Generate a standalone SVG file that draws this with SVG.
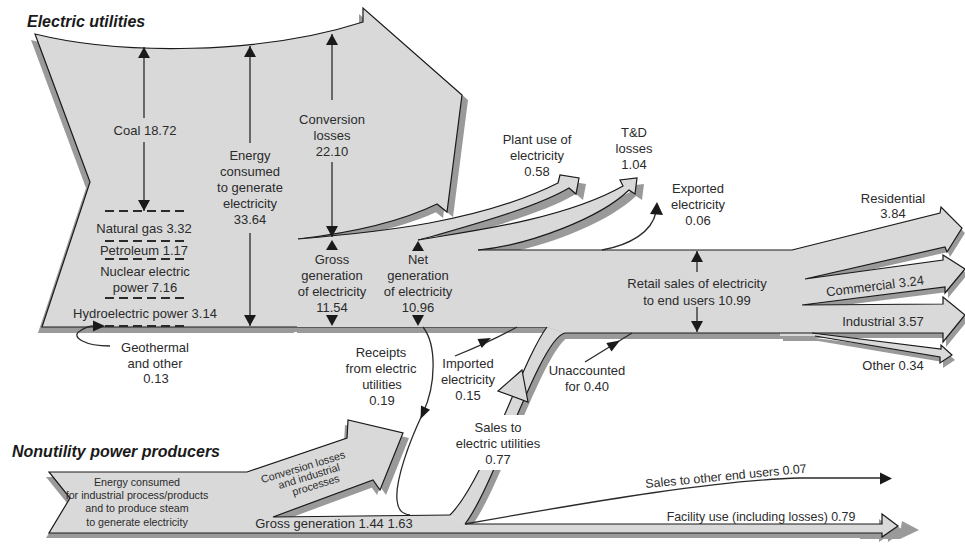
<svg xmlns="http://www.w3.org/2000/svg" width="965" height="545" viewBox="0 0 965 545">
<defs>
<style>
.f{fill:#d9d9d9}
.s{fill:#9a9a9a}
.o{fill:none;stroke:#1a1a1a;stroke-width:1.2;stroke-linejoin:miter}
.ln{fill:none;stroke:#2a2a2a;stroke-width:1.3}
.ah{fill:#1a1a1a}
.dash{stroke:#2a2a2a;stroke-width:2;stroke-dasharray:9,5}
.t{font-family:"Liberation Sans",Arial,sans-serif;font-size:13px;fill:#2b2b2b;text-anchor:middle}
.ts{font-family:"Liberation Sans",Arial,sans-serif;font-size:10.7px;fill:#2b2b2b;text-anchor:middle}
.tm{font-family:"Liberation Sans",Arial,sans-serif;font-size:12.4px;fill:#2b2b2b;text-anchor:middle}
.h{font-family:"Liberation Sans",Arial,sans-serif;font-size:16px;font-weight:bold;font-style:italic;fill:#1a1a1a}
</style>
<marker id="a" viewBox="0 0 11 12" refX="11" refY="6" markerWidth="11" markerHeight="12" markerUnits="userSpaceOnUse" orient="auto"><path d="M0,0 L11,6 L0,12 Z" fill="#1a1a1a"/></marker>
<path id="pB1" d="M35,34 C120,55 260,55 363,22 L363,8 L462,95 L447,212 L437,204 C400,222 350,233 298,239 L298,327 L42,327 L90,182 Z"/>
<path id="pB2" d="M297,239 L320,238 L430,234 L470,245 L478,250 L792,250 L805,279 L802,305 L812,333 L565,333 L547,327 L297,327 Z"/>
<path id="pPl" d="M298,239 C380,232 480,222 558,183 L560,175 L579,178 L576,194 L569,188 C540,205 490,220 430,237 Z"/>
<path id="pTD" d="M418,240 C450,234 560,222 623,186 L620,180 L637,178 L635,194 L629,190 C600,218 530,245 478,250 Z"/>
<path id="pR" d="M780,250 L792,250 L940,213 L941,207 L962,228 L947,252 L945,247 L805,279 L943,260 L943,255 L965,269 L945,293 L945,287 L802,305 L943,304 L943,297 L965,315 L943,342 L943,333 L812,333 L941,349 L941,345 L952,355 L940,363 L940,357 L815,336 L780,336 Z"/>
<path id="pSa" d="M547,327 C522,360 485,480 450,515 L465,524 C495,485 540,338 565,333 Z"/>
<path id="pNU" d="M49,472 L247,472 L347,438 L348,420 L403,433 L380,490 L373,480 L273,517 L403,515 L450,515 L465,524 L882,524 L882,514 L898,526 L882,537 L882,533 L49,533 L70,498 Z"/>
</defs>
<rect width="965" height="545" fill="#ffffff"/>

<g id="shadows">
<use href="#pB1" class="s" transform="translate(-4,6)"/>
<use href="#pB1" class="s" transform="translate(6,5)"/>
<use href="#pB2" class="s" transform="translate(0,6)"/>
<use href="#pPl" class="s" transform="translate(7,6)"/>
<use href="#pTD" class="s" transform="translate(7,6)"/>
<use href="#pR" class="s" transform="translate(3,5)"/>
<use href="#pSa" class="s" transform="translate(6,3)"/>
<use href="#pNU" class="s" transform="translate(-3,5)"/>
<use href="#pNU" class="s" transform="translate(6,5)"/>
<path class="s" d="M860,533 L900,533 L902,521 L919,530 L900,539 L860,539 Z"/>
</g>

<g id="electric-utilities">
<use href="#pB1" class="f"/>
<path class="o" d="M298,239 C350,233 400,222 437,204 L447,212 L462,95 L363,8 L363,22 C260,55 120,55 35,34 L90,182 L42,327 L547,327"/>
</g>

<g id="main-band">
<use href="#pB2" class="f"/>
</g>

<g id="plant-use">
<use href="#pPl" class="f"/>
<path class="o" d="M298,239 C380,232 480,222 558,183 L560,175 L579,178 L576,194 L569,188 C540,205 490,220 430,237 L418,240"/>
</g>

<g id="td-losses">
<use href="#pTD" class="f"/>
<path class="o" d="M418,240 C450,234 560,222 623,186 L620,180 L637,178 L635,194 L629,190 C600,218 530,245 478,250"/>
</g>

<g id="end-use-arrows">
<use href="#pR" class="f"/>
<path class="o" d="M478,250 L792,250 L940,213 L941,207 L962,228 L947,252 L945,247 L805,279 L943,260 L943,255 L965,269 L945,293 L945,287 L802,305 L943,304 L943,297 L965,315 L943,342 L943,333 L565,333"/>
<path class="o" d="M812,333 L941,349 L941,345 L952,355 L940,363 L940,357 L815,336"/>
</g>

<g id="nonutility">
<use href="#pNU" class="f"/>
<path class="o" d="M450,515 L273,517 L373,480 L380,490 L403,433 L348,420 L347,438 L247,472 L49,472 L70,498 L49,533 L882,533 L882,537 L898,526 L882,514 L882,524 L465,524"/>
</g>

<g id="sales-to-utilities">
<use href="#pSa" class="f"/>
<path class="o" d="M547,327 C522,360 485,480 450,515"/>
<path class="o" d="M465,524 C495,485 540,338 565,333"/>
<path class="f" d="M522,370 L528,402 L498,391 Z" stroke="#1a1a1a" stroke-width="1.2"/>
<rect x="446" y="415" width="104" height="55" fill="#ffffff"/>
</g>

<g id="connectors">
<path class="ln" d="M144,118 L144,47" marker-end="url(#a)"/>
<path class="ln" d="M144,142 L144,211" marker-end="url(#a)"/>
<path class="ln" d="M250,143 L250,46" marker-end="url(#a)"/>
<path class="ln" d="M250,233 L250,326" marker-end="url(#a)"/>
<path class="ln" d="M332,100 L332,34" marker-end="url(#a)"/>
<path class="ln" d="M332,162 L332,237" marker-end="url(#a)"/>
<path class="ah" d="M332,240 L326,250 L338,250 Z"/>
<path class="ah" d="M326,315 L338,315 L332,326 Z"/>
<path class="ah" d="M418,241 L412,251 L424,251 Z"/>
<path class="ah" d="M412,315 L424,315 L418,326 Z"/>
<path class="ln" d="M697,272 L697,251" marker-end="url(#a)"/>
<path class="ln" d="M697,307 L697,332" marker-end="url(#a)"/>
<line class="dash" x1="105" y1="211" x2="186" y2="211"/>
<line class="dash" x1="105" y1="241" x2="186" y2="241"/>
<line class="dash" x1="105" y1="259" x2="186" y2="259"/>
<line class="dash" x1="105" y1="298" x2="186" y2="298"/>
<line class="dash" x1="105" y1="326" x2="186" y2="326" stroke-width="2.6"/>
<path class="ln" d="M110,346 C85,346 70,337 80,331 C85,327 90,326 95,326"/>
<path class="ah" d="M93,320.5 L105,326 L93,331.5 Z"/>
<path class="ln" d="M602,250 C630,245 652,232 656,212"/>
<path class="ah" d="M657,202 L663,215 L650,214 Z"/>
<path class="ln" d="M423,327 C437,345 436,385 423,413 C410,440 395,480 397,500 C398,510 402,514 410,515"/>
<path class="ah" d="M420.5,419 L421,405.5 L430,409.7 Z"/>
<path class="ln" d="M455,356 Q490,342 517,327"/>
<path class="ah" d="M491,338 L477.5,339 L481.7,348 Z"/>
<path class="ln" d="M585,362 L632,333"/>
<path class="ah" d="M620,340.5 L606.3,342.9 L611.5,351.4 Z"/>
<path class="ln" d="M465,524 C600,500 720,480 800,478 L882,478"/>
<path class="ah" d="M880,472.5 L892,478.5 L880,484.5 Z"/>
</g>

<g id="labels">
<text class="h" x="27" y="27">Electric utilities</text>
<text class="h" x="12" y="457">Nonutility power producers</text>
<text class="t" x="145" y="134.5">Coal 18.72</text>
<text class="t" x="250" y="159.5">Energy</text>
<text class="t" x="250" y="175.5">consumed</text>
<text class="t" x="250" y="191.5">to generate</text>
<text class="t" x="250" y="207.5">electricity</text>
<text class="t" x="250" y="223.5">33.64</text>
<text class="t" x="332" y="123.5">Conversion</text>
<text class="t" x="332" y="139.5">losses</text>
<text class="t" x="332" y="155.5">22.10</text>
<text class="t" x="144" y="232.5">Natural gas 3.32</text>
<text class="t" x="144" y="255">Petroleum 1.17</text>
<text class="t" x="145" y="275.5">Nuclear electric</text>
<text class="t" x="145" y="291.5">power 7.16</text>
<text class="t" x="145" y="317.5">Hydroelectric power 3.14</text>
<text class="t" x="155" y="351.5">Geothermal</text>
<text class="t" x="155" y="367.5">and other</text>
<text class="t" x="156" y="383">0.13</text>
<text class="t" x="332" y="263.5">Gross</text>
<text class="t" x="332" y="279.5">generation</text>
<text class="t" x="332" y="295.5">of electricity</text>
<text class="t" x="332" y="311.5">11.54</text>
<text class="t" x="418" y="263.5">Net</text>
<text class="t" x="418" y="279.5">generation</text>
<text class="t" x="418" y="295.5">of electricity</text>
<text class="t" x="418" y="311.5">10.96</text>
<text class="t" x="537" y="143.5">Plant use of</text>
<text class="t" x="537" y="159.5">electricity</text>
<text class="t" x="537" y="175.5">0.58</text>
<text class="t" x="634" y="136.5">T&amp;D</text>
<text class="t" x="634" y="152.5">losses</text>
<text class="t" x="634" y="168.5">1.04</text>
<text class="t" x="698" y="192.5">Exported</text>
<text class="t" x="698" y="208.5">electricity</text>
<text class="t" x="698" y="224.5">0.06</text>
<text class="t" x="893" y="202.5">Residential</text>
<text class="t" x="893" y="217.5">3.84</text>
<text class="t" transform="translate(875,286) rotate(-7)" x="0" y="4.5">Commercial 3.24</text>
<text class="t" x="883" y="325.5">Industrial 3.57</text>
<text class="t" x="893" y="369.5">Other 0.34</text>
<text class="t" x="697" y="287.5">Retail sales of electricity</text>
<text class="t" x="697" y="304.5">to end users 10.99</text>
<text class="t" x="381" y="356.5">Receipts</text>
<text class="t" x="381" y="372.5">from electric</text>
<text class="t" x="382" y="388.5">utilities</text>
<text class="t" x="382" y="404.5">0.19</text>
<text class="t" x="468" y="367.5">Imported</text>
<text class="t" x="468" y="383.5">electricity</text>
<text class="t" x="468" y="399.5">0.15</text>
<text class="t" x="587" y="374.5">Unaccounted</text>
<text class="t" x="587" y="390.5">for 0.40</text>
<text class="t" x="498" y="431.5">Sales to</text>
<text class="t" x="498" y="447.5">electric utilities</text>
<text class="t" x="498" y="463.5">0.77</text>
<text class="tm" transform="translate(726,476) rotate(-5.5)" x="0" y="4.3">Sales to other end users 0.07</text>
<text class="tm" x="761" y="521.3">Facility use (including losses) 0.79</text>
<text class="t" x="334" y="527.5">Gross generation 1.44 1.63</text>
<text class="ts" x="137" y="486">Energy consumed</text>
<text class="ts" x="137" y="499">for industrial process/products</text>
<text class="ts" x="137" y="512">and to produce steam</text>
<text class="ts" x="137" y="525.5">to generate electricity</text>
<g transform="translate(303,467) rotate(-17)">
<text class="ts" x="0" y="3.7" font-size="10.3">Conversion losses</text>
<text class="ts" x="3" y="14.2" font-size="10.3">and industrial</text>
<text class="ts" x="7" y="24.7" font-size="10.3">processes</text>
</g>
</g>
</svg>
